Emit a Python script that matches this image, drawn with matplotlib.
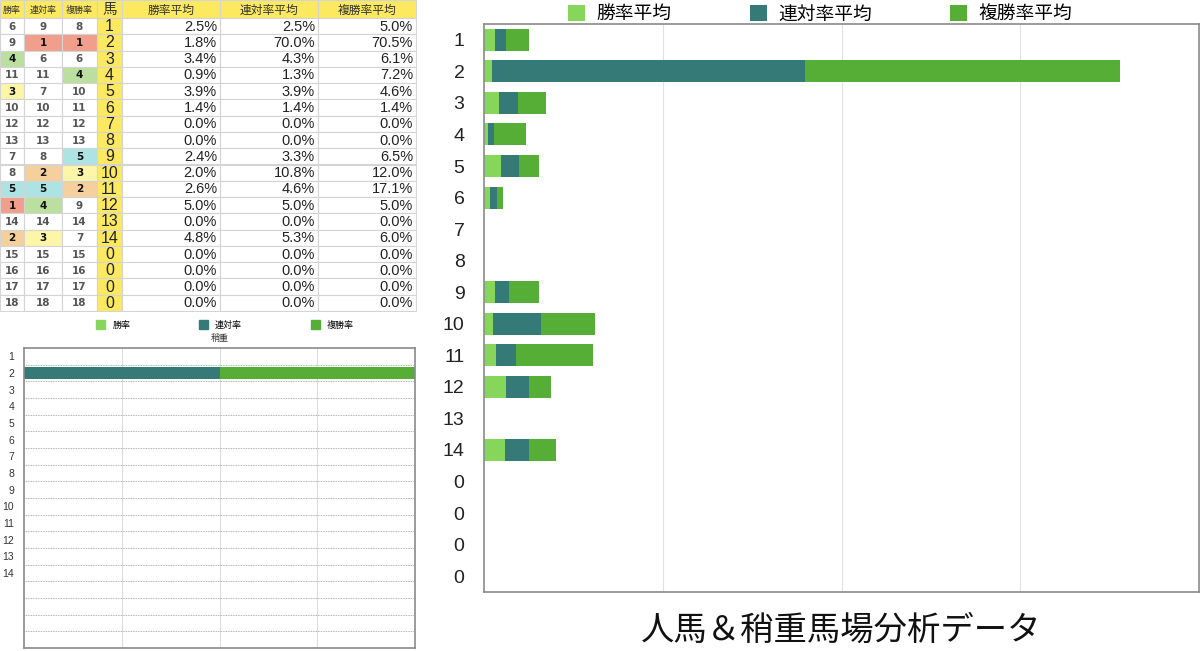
import numpy as np
import matplotlib
matplotlib.use("Agg")
from matplotlib import pyplot as plt
from matplotlib.patches import Rectangle, Patch

plt.rcParams['font.family'] = ['Noto Sans CJK JP', 'DejaVu Sans']

# データ
horses = ["1", "2", "3", "4", "5", "6", "7", "8", "9", "10", "11", "12", "13", "14", "0", "0", "0", "0"]
rank_win = [6, 9, 4, 11, 3, 10, 12, 13, 7, 8, 5, 1, 14, 2, 15, 16, 17, 18]
rank_ren = [9, 1, 6, 11, 7, 10, 12, 13, 8, 2, 5, 4, 14, 3, 15, 16, 17, 18]
rank_fuku = [8, 1, 6, 4, 10, 11, 12, 13, 5, 3, 2, 9, 14, 7, 15, 16, 17, 18]
win_avg = [2.5, 1.8, 3.4, 0.9, 3.9, 1.4, 0.0, 0.0, 2.4, 2.0, 2.6, 5.0, 0.0, 4.8, 0.0, 0.0, 0.0, 0.0]
ren_avg = [2.5, 70.0, 4.3, 1.3, 3.9, 1.4, 0.0, 0.0, 3.3, 10.8, 4.6, 5.0, 0.0, 5.3, 0.0, 0.0, 0.0, 0.0]
fuku_avg = [5.0, 70.5, 6.1, 7.2, 4.6, 1.4, 0.0, 0.0, 6.5, 12.0, 17.1, 5.0, 0.0, 6.0, 0.0, 0.0, 0.0, 0.0]
header = ["勝率", "連対率", "複勝率", "馬", "勝率平均", "連対率平均", "複勝率平均"]

# 稍重グラフ
small_labels = ["1", "2", "3", "4", "5", "6", "7", "8", "9", "10", "11", "12", "13", "14", "", "", "", ""]
small_win = [0] * 18
small_ren = [0, 50, 0, 0, 0, 0, 0, 0, 0, 0, 0, 0, 0, 0, 0, 0, 0, 0]
small_fuku = [0, 50, 0, 0, 0, 0, 0, 0, 0, 0, 0, 0, 0, 0, 0, 0, 0, 0]

c_win = "#85d65a"
c_ren = "#357a76"
c_fuku = "#57ae36"
rank_colors = {1: "#f19f8c", 2: "#f5cf9c", 3: "#fdf5a8", 4: "#badf9f", 5: "#ade3e3"}
yellow = "#fce95f"
num_font = ['Liberation Sans', 'Noto Sans CJK JP']

W, H = 1200, 651
fig = plt.figure(figsize=(12, 6.51), dpi=100)


def px_axes(x0, y0, x1, y1):
    return fig.add_axes([x0 / W, 1 - y1 / H, (x1 - x0) / W, (y1 - y0) / H])


# ---- 表 ----
ax_t = px_axes(0, 0, 417, 312)
ax_t.set_xlim(0, 417)
ax_t.set_ylim(312, 0)
ax_t.axis("off")
col_edges = [0, 24, 62, 97, 122, 220, 318, 416]
head_h = 18
row_h = (311 - head_h) / 18

for j, name in enumerate(header):
    x0, x1 = col_edges[j], col_edges[j + 1]
    ax_t.add_patch(Rectangle((x0, 0), x1 - x0, head_h, facecolor=yellow, edgecolor="#d4d4d4", lw=0.8))
    fs = 10.5 if j == 3 else (6.5 if j < 3 else 8.5)
    ax_t.text((x0 + x1) / 2, head_h / 2 + 1, name, ha="center", va="center", fontsize=fs, color="#333")

for i in range(18):
    y0 = head_h + i * row_h
    yc = y0 + row_h / 2
    for j, ranks in enumerate([rank_win, rank_ren, rank_fuku]):
        r = ranks[i]
        x0, x1 = col_edges[j], col_edges[j + 1]
        fc = rank_colors.get(r, "white")
        ax_t.add_patch(Rectangle((x0, y0), x1 - x0, row_h, facecolor=fc, edgecolor="#d4d4d4", lw=0.8))
        ax_t.text((x0 + x1) / 2, yc + 0.5, str(r), ha="center", va="center", fontsize=7.5,
                  fontweight="bold", color="#111" if r in rank_colors else "#555", family="DejaVu Sans")
    x0, x1 = col_edges[3], col_edges[4]
    ax_t.add_patch(Rectangle((x0, y0), x1 - x0, row_h, facecolor=yellow, edgecolor="#d4d4d4", lw=0.8))
    ax_t.text((x0 + x1) / 2, yc + 0.5, horses[i], ha="center", va="center", fontsize=11.5, color="#222",
              family=num_font)
    for j, vals in zip([4, 5, 6], [win_avg, ren_avg, fuku_avg]):
        x0, x1 = col_edges[j], col_edges[j + 1]
        ax_t.add_patch(Rectangle((x0, y0), x1 - x0, row_h, facecolor="white", edgecolor="#d4d4d4", lw=0.8))
        ax_t.text(x1 - 3, yc + 0.5, "%.1f%%" % vals[i], ha="right", va="center", fontsize=10.5, color="#222",
                  family=num_font)

# ---- 稍重グラフ ----
ax_s = px_axes(24, 348, 415, 648)
y = np.arange(18)
ax_s.barh(y, small_win, height=0.7, color=c_win)
ax_s.barh(y, small_ren, left=small_win, height=0.7, color=c_ren)
ax_s.barh(y, small_fuku, left=np.add(small_win, small_ren), height=0.7, color=c_fuku)
ax_s.set_xlim(0, 100)
ax_s.set_ylim(17.5, -0.5)
ax_s.set_yticks(y)
ax_s.set_yticklabels(small_labels, fontsize=7.5, color="#333", family=num_font)
ax_s.set_xticks([25, 50, 75])
ax_s.set_xticklabels([])
ax_s.tick_params(length=0, pad=7)
for v in [25, 50, 75]:
    ax_s.axvline(v, color="#dddddd", lw=0.8, zorder=0)
for b in np.arange(0.5, 17, 1):
    ax_s.axhline(b, color="#9a9a9a", lw=0.6, ls=(0, (1, 1)), zorder=0)
for s in ax_s.spines.values():
    s.set_color("#8a8a8a")
    s.set_linewidth(1.2)
hs = [Patch(color=c_win, label="勝率"), Patch(color=c_ren, label="連対率"), Patch(color=c_fuku, label="複勝率")]
fig.legend(handles=hs, loc="center", bbox_to_anchor=(225 / W, 1 - 325 / H), ncol=3, frameon=False,
           fontsize=6.5, handlelength=1.0, handleheight=1.0, handletextpad=0.8, columnspacing=7.6)
fig.text(220 / W, 1 - 339 / H, "稍重", ha="center", va="center", fontsize=6.5, color="#333")

# ---- メイングラフ ----
ax = px_axes(484, 24, 1199, 592)
ax.barh(y, win_avg, height=0.7, color=c_win, label="勝率平均")
ax.barh(y, ren_avg, left=win_avg, height=0.7, color=c_ren, label="連対率平均")
ax.barh(y, fuku_avg, left=np.add(win_avg, ren_avg), height=0.7, color=c_fuku, label="複勝率平均")
ax.set_xlim(0, 160)
ax.set_ylim(17.5, -0.5)
ax.set_yticks(y)
ax.set_yticklabels(horses, fontsize=14, color="#222", family=num_font)
ax.set_xticks([40, 80, 120])
ax.set_xticklabels([])
ax.tick_params(length=0, pad=14)
ax.grid(axis="x", color="#e2e2e2", lw=0.8)
ax.set_axisbelow(True)
for s in ax.spines.values():
    s.set_color("#8a8a8a")
    s.set_linewidth(1.2)
ax.legend(loc="lower center", bbox_to_anchor=(0.470, 0.986), ncol=3, frameon=False, fontsize=13.5,
          handlelength=0.9, handleheight=0.9, handletextpad=0.6, columnspacing=4.2, borderaxespad=0)

fig.text(841 / W, 1 - 630 / H, "人馬＆稍重馬場分析データ", ha="center", va="center", fontsize=24, color="#111")

plt.savefig("out.png", dpi=100)
